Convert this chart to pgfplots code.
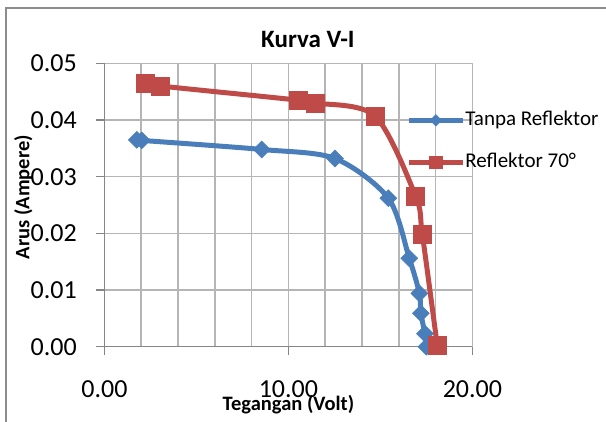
\documentclass[border=0pt]{standalone}
\usepackage{pgfplots}
\pgfplotsset{compat=1.18}
\usepackage{fontspec}
\setmainfont{Carlito}
\definecolor{serblue}{HTML}{4A7EBB}
\definecolor{serred}{HTML}{BE4B48}
\definecolor{gridgray}{HTML}{B5B5B5}
\definecolor{axisgray}{HTML}{868686}
\definecolor{bordergray}{HTML}{8C8C8C}
\begin{document}
\begin{tikzpicture}
\path[use as bounding box] (0pt,0pt) rectangle (606pt,-421pt);
\draw[bordergray, line width=2pt] (6pt,-440pt) -- (6pt,-8pt) -- (640pt,-8pt);
\begin{axis}[
  at={(104.4pt,-346.7pt)}, anchor=south west,
  scale only axis, width=368pt, height=283.4pt,
  xmin=0, xmax=20, ymin=0, ymax=0.05,
  clip=false,
  axis lines*=left,
  axis line style={draw=axisgray, line width=1.5pt},
  xtick={0,10,20},
  minor xtick={2,4,6,8,12,14,16,18},
  ytick={0,0.01,0.02,0.03,0.04,0.05},
  scaled y ticks=false,
  grid=both,
  major grid style={draw=gridgray, line width=1.5pt},
  minor grid style={draw=gridgray, line width=1.5pt},
  tick align=outside,
  major tick length=8pt,
  minor tick length=0pt,
  tick style={draw=axisgray, line width=1.5pt},
  /pgf/number format/assume math mode=true,
  xticklabel={\pgfmathprintnumber[fixed,fixed zerofill,precision=2]{\tick}},
  yticklabel={\pgfmathprintnumber[fixed,fixed zerofill,precision=2]{\tick}},
  ticklabel style={font=\fontsize{26}{30}\selectfont, inner sep=0pt},
  xticklabel style={anchor=north, yshift=-25.5pt},
  yticklabel style={anchor=east, xshift=-19.5pt},
  title={Kurva V-I},
  title style={at={(axis description cs:0.553,1.035)}, anchor=base, font=\bfseries\fontsize{25}{30}\selectfont, inner sep=0pt},
  xlabel={Tegangan (Volt)},
  xlabel style={at={(axis description cs:0.5,-0.2234)}, anchor=base, font=\bfseries\fontsize{20.5}{24}\selectfont, inner sep=0pt},
  ylabel={Arus (Ampere)},
  ylabel style={at={(axis description cs:-0.204,0.528)}, anchor=base, rotate=0, font=\bfseries\fontsize{20.5}{24}\selectfont, inner sep=0pt},
  legend cell align=left,
  legend style={at={(axis description cs:0.82,0.835)}, anchor=north west, draw=none, fill=none, inner sep=0pt, row sep=22pt, column sep=0pt,
    nodes={inner sep=0pt, text height=15pt, text depth=5pt, font=\fontsize{21}{25}\selectfont}},
  legend image code/.code={
    \draw[mark repeat=2,mark phase=2,#1,/tikz/every mark/.append style={scale=0.68}]
      plot coordinates {(0pt,0pt) (27pt,0pt) (54pt,0pt)};
  },
]
\addplot[serblue, line width=5pt, smooth, tension=0.5, mark=square*, mark size=6pt,
  mark options={rotate=45, fill=serblue, draw=serblue, line width=0.5pt}]
  coordinates {(1.76,0.0365) (2.03,0.0364) (8.55,0.0348) (12.53,0.0332) (15.43,0.0262)
   (16.57,0.0156) (17.12,0.0094) (17.2,0.0059) (17.42,0.0023) (17.5,0.0)};
\addlegendentry{Tanpa Reflektor}
\addplot[serred, line width=5pt, smooth, tension=0.5, mark=square*, mark size=9pt,
  mark options={fill=serred, draw=serred, line width=0.5pt}]
  coordinates {(2.21,0.0465) (3.03,0.0460) (10.54,0.0435) (11.45,0.0430) (14.71,0.0407)
   (16.92,0.0265) (17.28,0.0198) (18.09,0.0002)};
\addlegendentry{Reflektor 70°}
\end{axis}
\end{tikzpicture}
\end{document}
